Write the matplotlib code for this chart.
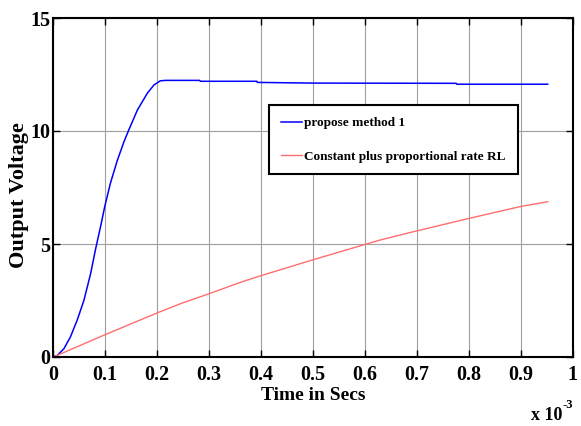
import matplotlib
matplotlib.use("Agg")
import matplotlib.pyplot as plt

# Data (time in units of 1e-3 s)
blue_t = [0, 0.0077, 0.0205, 0.033, 0.046, 0.059, 0.072, 0.081, 0.091, 0.099,
          0.110, 0.123, 0.136, 0.146, 0.162, 0.181, 0.194, 0.206, 0.216,
          0.282, 0.283, 0.392, 0.393, 0.5, 0.776, 0.777, 0.952]
blue_v = [0, 0.07, 0.37, 0.89, 1.63, 2.51, 3.70, 4.73, 5.77, 6.65,
          7.69, 8.68, 9.52, 10.08, 10.93, 11.67, 12.04, 12.22, 12.24,
          12.24, 12.2, 12.2, 12.15, 12.12, 12.11, 12.07, 12.07]

red_t = [0, 0.1, 0.2, 0.245, 0.3, 0.36, 0.4, 0.5, 0.6, 0.63, 0.7, 0.8, 0.9, 0.952]
red_v = [0, 0.99, 1.95, 2.36, 2.8, 3.3, 3.6, 4.3, 4.98, 5.18, 5.58, 6.13, 6.66, 6.87]

labels = ["propose method 1", "Constant plus proportional rate RL"]
xticks = [0, 0.1, 0.2, 0.3, 0.4, 0.5, 0.6, 0.7, 0.8, 0.9, 1]
xticklabels = ["0", "0.1", "0.2", "0.3", "0.4", "0.5", "0.6", "0.7", "0.8", "0.9", "1"]
yticks = [0, 5, 10, 15]

plt.rcParams['font.family'] = ['Liberation Serif', 'DejaVu Serif']
plt.rcParams['font.weight'] = 'bold'

fig = plt.figure(figsize=(5.81, 4.26), dpi=100)
ax = fig.add_axes([53.3 / 581, (426 - 357) / 426, 519.3 / 581, 339 / 426])

ax.plot(blue_t, blue_v, color='#0000ff', lw=1.1, label=labels[0])
ax.plot(red_t, red_v, color='#ff6e6e', lw=1.0, label=labels[1])

ax.set_xlim(0, 1)
ax.set_ylim(0, 15)
ax.set_xticks(xticks)
ax.set_xticklabels(xticklabels)
ax.set_yticks(yticks)
ax.grid(True, color='#a0a0a0', lw=0.8, ls='-')
ax.tick_params(direction='in', length=5, width=1, top=True, right=True,
               labelsize=14.5, colors='black')
ax.tick_params(axis='x', pad=6)
ax.tick_params(axis='y', pad=2)
for s in ax.spines.values():
    s.set_linewidth(1.5)

ax.set_xlabel("Time in Secs", fontsize=14, fontweight='bold', labelpad=1)
ax.set_ylabel("Output Voltage", fontsize=16, fontweight='bold', va='center')
ax.yaxis.set_label_coords(-0.066, 0.478)

ax.text(0.9796, -0.172, "x 10", transform=ax.transAxes,
        ha='right', va='center', fontsize=13, fontweight='bold')
ax.text(0.9815, -0.142, "-3", transform=ax.transAxes,
        ha='left', va='center', fontsize=9, fontweight='bold')

leg = ax.legend(loc='upper left', bbox_to_anchor=(0.415, 0.743), fontsize=9.5,
                frameon=True, fancybox=False, handlelength=1.6, handletextpad=0.2,
                labelspacing=1.6, borderpad=0.9, borderaxespad=0)
leg.get_frame().set_edgecolor('black')
leg.get_frame().set_linewidth(1.5)
leg.get_frame().set_alpha(1)
for t in leg.get_texts():
    t.set_fontweight('bold')

fig.savefig("out.png", dpi=100)
